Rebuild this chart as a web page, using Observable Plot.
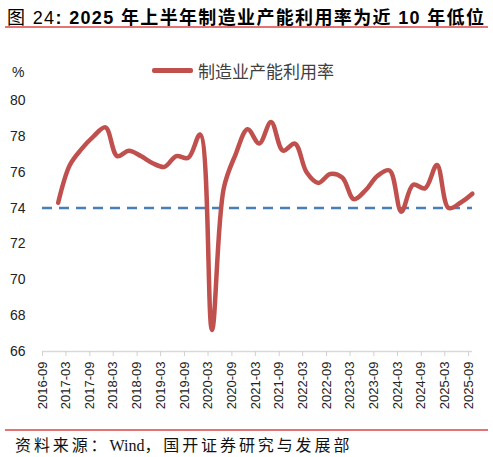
<!DOCTYPE html>
<html>
<head>
<meta charset="utf-8">
<script src="https://cdn.jsdelivr.net/npm/d3@7"></script>
<script src="https://cdn.jsdelivr.net/npm/@observablehq/plot@0.6"></script>
<style>
  body { margin: 0; background: #fff; font-family: "Liberation Sans", "Noto Sans CJK SC", sans-serif; }
  #wrap { position: relative; width: 493px; height: 457px; }
  #title { position: absolute; left: 5px; top: 3px; width: 483px; height: 25px; border-bottom: 2px solid #e57373;
           font-size: 18px; letter-spacing: 1.35px; white-space: nowrap; color: #000; padding-left: 2px; box-sizing: border-box; }
  #title b { font-weight: bold; }
  #pct { position: absolute; left: 12px; top: 64px; font-size: 14px; color: #222; }
  #legend { position: absolute; left: 152px; top: 58px; font-size: 17px; color: #404040; display: flex; align-items: center; }
  #legend span.sw { display: inline-block; width: 41px; height: 5px; background: #c0504d; border-radius: 2px; margin-right: 5px; }
  #chart { position: absolute; left: 0; top: 82px; }
  #source { position: absolute; left: 5px; top: 429px; width: 483px; border-top: 2px solid #e57373;
            font-family: "Liberation Serif", "Noto Sans CJK SC", serif; font-size: 16px;
            padding-left: 10px; padding-top: 1px; color: #111; box-sizing: border-box; white-space: nowrap; }
  #source .cn { letter-spacing: 2.9px; }
</style>
</head>
<body>
<div id="wrap">
  <div id="title">图 24<b>: 2025 年上半年制造业产能利用率为近 10 年低位</b></div>
  <div id="pct">%</div>
  <div id="legend"><span class="sw"></span>制造业产能利用率</div>
  <div id="chart"></div>
  <div id="source"><span class="cn">资料来源：</span>Wind<span class="cn">，国开证券研究与发展部</span></div>
</div>
<script>
// quarterly, end of quarter
const quarters = [
  "2016-12-31",
  "2017-03-31", "2017-06-30", "2017-09-30", "2017-12-31",
  "2018-03-31", "2018-06-30", "2018-09-30", "2018-12-31",
  "2019-03-31", "2019-06-30", "2019-09-30", "2019-12-31",
  "2020-03-31", "2020-06-30", "2020-09-30", "2020-12-31",
  "2021-03-31", "2021-06-30", "2021-09-30", "2021-12-31",
  "2022-03-31", "2022-06-30", "2022-09-30", "2022-12-31",
  "2023-03-31", "2023-06-30", "2023-09-30", "2023-12-31",
  "2024-03-31", "2024-06-30", "2024-09-30", "2024-12-31",
  "2025-03-31", "2025-06-30", "2025-09-30"
];
const utilization = [
  74.3,
  76.4, 77.3, 78.0, 78.5,
  76.9, 77.2, 76.9, 76.5,
  76.3, 76.9, 76.8, 78.1,
  67.2, 75.1, 77.0, 78.4,
  77.6, 78.8, 77.2, 77.6,
  76.0, 75.4, 75.9, 75.7,
  74.5, 75.0, 75.8, 76.1,
  73.8, 75.3, 75.1, 76.4,
  74.0, 74.3, 74.8
];
const refLevel = 74;
const xTicks = [
  "2016-09", "2017-03", "2017-09", "2018-03", "2018-09", "2019-03", "2019-09",
  "2020-03", "2020-09", "2021-03", "2021-09", "2022-03", "2022-09", "2023-03",
  "2023-09", "2024-03", "2024-09", "2025-03", "2025-09"
];
const yTicks = [66, 68, 70, 72, 74, 76, 78, 80];

const parse = d3.utcParse("%Y-%m-%d");
const rows = quarters.map((q, i) => ({date: parse(q), value: utilization[i]}));
const tickDates = xTicks.map(t => parse(t + "-01"));

const plot = Plot.plot({
  width: 493,
  height: 343,
  marginTop: 18,
  marginBottom: 74,
  marginLeft: 42,
  marginRight: 21,
  style: {fontFamily: "Liberation Sans, sans-serif", fontSize: "13px", color: "#222"},
  x: {type: "utc", domain: [parse("2016-09-01"), parse("2025-10-01")]},
  y: {domain: [66, 80]},
  marks: [
    Plot.ruleY([66], {stroke: "#d9d9d9", strokeWidth: 1.5}),
    Plot.axisX({ticks: tickDates, tickFormat: d3.utcFormat("%Y-%m"), tickRotate: -90, tickSize: 5,
                tickPadding: 5, stroke: "#d0d0d0", fill: "#222", fontSize: 13, label: null}),
    Plot.axisY({ticks: yTicks, tickSize: 0, tickPadding: 17, fontSize: 14, fill: "#222", label: null}),
    Plot.ruleY([refLevel], {stroke: "#4a7ebb", strokeWidth: 2.5, strokeDasharray: "10,7"}),
    Plot.line(rows, {x: "date", y: "value", curve: "catmull-rom", stroke: "#c0504d", strokeWidth: 4.5,
                     strokeLinecap: "round"})
  ]
});
document.getElementById("chart").appendChild(plot);
</script>
</body>
</html>
